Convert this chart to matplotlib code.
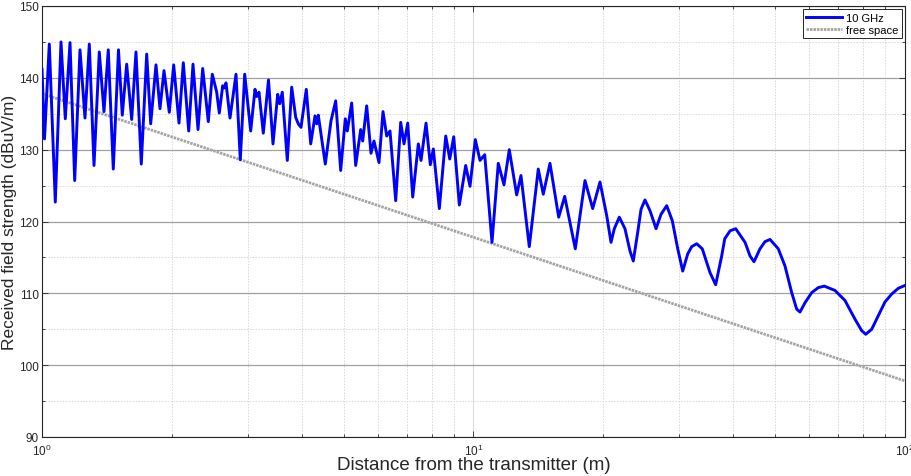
import matplotlib
matplotlib.use('Agg')
import matplotlib.pyplot as plt
from matplotlib.ticker import LogLocator, MultipleLocator, NullFormatter, FixedLocator

plt.rcParams['font.family'] = ['Liberation Sans', 'DejaVu Sans']

# Received field, 10 GHz
distance_m = [
    1.000, 1.0134, 1.0397, 1.0735, 1.1067, 1.1324, 1.1612, 1.1906, 1.2247, 1.2579,
    1.2871, 1.3198, 1.3576, 1.3920, 1.4243, 1.4628, 1.5040, 1.5348, 1.5713, 1.6138,
    1.6512, 1.6986, 1.7483, 1.7860, 1.8373, 1.8769, 1.9174, 1.9725, 2.0193, 2.0773,
    2.1255, 2.1878, 2.2385, 2.2991, 2.3574, 2.4289, 2.4813, 2.5402, 2.5756, 2.6228,
    2.6453, 2.6694, 2.7270, 2.8158, 2.8811, 2.9495, 3.0455, 3.1162, 3.1446, 3.1834,
    3.2573, 3.3489, 3.4303, 3.5174, 3.5552, 3.6048, 3.7024, 3.7904, 3.8722, 3.9262,
    3.9832, 4.0975, 4.1949, 4.2922, 4.3313, 4.3684, 4.5345, 4.6745, 4.7931, 4.9229,
    5.0450, 5.0991, 5.2203, 5.3330, 5.4773, 5.5360, 5.6555, 5.7866, 5.8800, 6.0395,
    6.1699, 6.2929, 6.4047, 6.6025, 6.7812, 6.9017, 7.0396, 7.2302, 7.4496, 7.5576,
    7.7622, 7.9422, 8.0706, 8.3333, 8.6231, 8.8093, 8.9994, 9.2720, 9.5925, 9.8150,
    10.097, 10.353, 10.616, 11.037, 11.414, 11.766, 12.104, 12.592, 12.884, 13.467,
    14.129, 14.511, 15.040, 15.755, 16.268, 17.215, 18.129, 18.890, 19.641, 20.36,
    20.830, 21.20, 21.773, 22.44, 23.05, 23.459, 24.02, 24.45, 24.966, 25.65,
    26.49, 27.20, 28.04, 28.89, 29.74, 30.54, 31.37, 32.04, 32.91, 33.90,
    35.32, 36.41, 37.60, 38.22, 39.31, 40.52, 42.59, 43.74, 44.67, 46.13,
    47.38, 48.66, 50.86, 52.71, 54.63, 56.11, 57.11, 58.66, 60.79, 62.97,
    65.02, 68.84, 72.60, 76.58, 79.37, 81.10, 83.72, 86.72, 89.87, 93.15,
    96.49, 100.0,
]
field_10ghz = [
    141.2, 131.5, 144.7, 122.7, 145.0, 134.3, 144.9, 125.7, 143.9, 134.4,
    144.7, 127.8, 143.6, 135.3, 143.9, 127.3, 143.9, 134.8, 141.9, 134.2,
    143.6, 128.0, 143.3, 133.6, 141.8, 135.7, 141.0, 135.2, 141.8, 133.7,
    142.1, 132.6, 141.9, 132.8, 141.3, 133.9, 140.5, 138.0, 135.1, 138.9,
    138.6, 139.3, 134.4, 140.5, 128.6, 140.5, 132.6, 138.4, 137.4, 138.0,
    132.3, 139.7, 130.8, 137.7, 136.4, 138.0, 128.5, 138.7, 134.5, 133.6,
    133.1, 138.4, 130.8, 134.7, 133.6, 134.8, 128.0, 134.0, 136.8, 127.1,
    134.3, 132.6, 136.5, 127.8, 132.8, 131.2, 136.1, 129.5, 131.2, 128.2,
    135.3, 131.9, 132.6, 122.9, 133.8, 130.8, 133.7, 123.4, 130.8, 128.5,
    133.7, 127.9, 130.1, 121.8, 131.9, 128.7, 131.8, 122.3, 127.8, 124.9,
    131.4, 128.5, 129.3, 117.1, 128.1, 125.1, 130.0, 123.7, 126.4, 116.5,
    127.3, 123.8, 128.1, 120.6, 123.5, 116.2, 125.7, 121.8, 125.5, 120.8,
    117.1, 119.0, 120.6, 119.0, 115.9, 114.5, 118.5, 121.7, 123.0, 121.5,
    119.0, 121.0, 122.2, 120.1, 116.2, 113.1, 115.5, 116.5, 116.9, 116.2,
    112.9, 111.2, 115.2, 117.6, 118.7, 119.0, 117.1, 115.2, 114.4, 116.2,
    117.2, 117.5, 116.2, 113.8, 110.1, 107.8, 107.4, 108.7, 110.1, 110.8,
    111.0, 110.4, 109.0, 106.4, 104.8, 104.3, 105.0, 106.9, 108.8, 109.9,
    110.7, 111.1,
]

# Free-space reference (straight line on the log axis)
fs_distance = [1.0, 100.0]
fs_field = [137.8, 97.8]

series_labels = ['10 GHz', 'free space']
x_label = 'Distance from the transmitter (m)'
y_label = 'Received field strength (dBuV/m)'
y_ticks = [90, 100, 110, 120, 130, 140, 150]

fig = plt.figure(figsize=(9.12, 4.77), dpi=100)
ax = fig.add_axes([42 / 912, 1 - 438 / 477, (905 - 42) / 912, (438 - 7) / 477])

ax.plot(distance_m, field_10ghz, color=(0, 0, 1), lw=2.1, label=series_labels[0],
        zorder=3, solid_joinstyle='round')
ax.plot(fs_distance, fs_field, color='#a4a4a4', lw=2.0, ls=(0, (0.9, 0.35)),
        label=series_labels[1], zorder=2)

ax.set_xscale('log')
ax.set_xlim(1, 100)
ax.set_ylim(90, 150)
ax.yaxis.set_major_locator(FixedLocator(y_ticks))
ax.yaxis.set_minor_locator(MultipleLocator(5))
ax.xaxis.set_major_locator(LogLocator(base=10, numticks=5))
ax.xaxis.set_minor_locator(LogLocator(base=10, subs=range(2, 10), numticks=20))
ax.xaxis.set_minor_formatter(NullFormatter())

ax.grid(which='major', axis='y', color='#a0a0a0', lw=0.9, ls='-')
ax.grid(which='major', axis='x', color='#dcdcdc', lw=0.8, ls='-')
ax.grid(which='minor', axis='both', color='#d8d8d8', lw=0.7, ls=(0, (1.5, 1.5)))
ax.set_axisbelow(True)

for s in ax.spines.values():
    s.set_color('#262626')
    s.set_linewidth(0.8)
ax.tick_params(which='both', direction='in', top=True, right=True, colors='#262626',
               labelsize=8.5, labelcolor='#262626')
ax.tick_params(which='major', length=4, width=0.6)
ax.tick_params(axis='y', which='major', pad=2.3)
ax.tick_params(axis='x', which='major', pad=4)
ax.tick_params(which='minor', length=2.5, width=0.6)

ax.set_xlabel(x_label, fontsize=13.5, color='#262626')
ax.set_ylabel(y_label, fontsize=12.5, color='#262626')
ax.xaxis.label.set_va('center')
ax.yaxis.label.set_va('center')
ax.xaxis.set_label_coords(0.5, (438 - 466) / 431)
ax.yaxis.set_label_coords((9.6 - 42) / 863, 0.5)

leg = ax.legend(loc='upper right', fontsize=8, frameon=True, fancybox=False,
                edgecolor='#262626', framealpha=1, borderpad=0.3, handlelength=3.2,
                handletextpad=0.4, labelspacing=0.2, borderaxespad=0.3)
leg.get_frame().set_linewidth(0.7)

fig.savefig('out.png', dpi=100)
